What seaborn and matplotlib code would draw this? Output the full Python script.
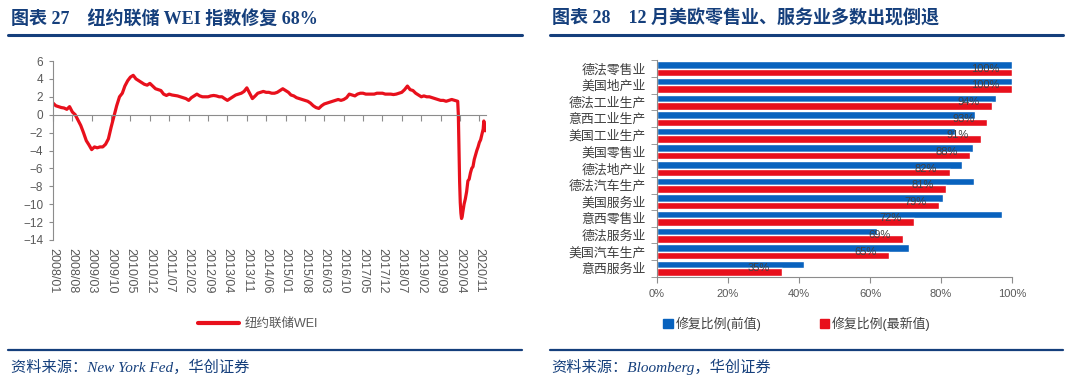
import numpy as np
import pandas as pd
import matplotlib
matplotlib.use("Agg")
import matplotlib.pyplot as plt
import matplotlib.dates as mdates
from matplotlib.lines import Line2D
from matplotlib.patches import Patch
from matplotlib.ticker import FuncFormatter
import seaborn as sns

# ---------------- Left chart data: NY Fed WEI ----------------
wei_monthly_start = "2008-01-01"
wei_monthly = [
    1.3, 1.0, 0.9, 0.8, 0.75, 0.6, 0.9, 0.3, 0.0, -0.6,
    -1.2, -2.0, -2.9, -3.4, -3.9, -3.6, -3.7, -3.6, -3.6, -3.3,
    -2.7, -1.4, -0.2, 1.0, 2.0, 2.4, 3.2, 3.8, 4.2, 4.4,
    4.0, 3.8, 3.6, 3.4, 3.3, 3.5, 3.2, 2.9, 2.8, 2.7,
    2.3, 2.15, 2.3, 2.2, 2.15, 2.1, 2.0, 1.9, 1.8, 1.6,
    1.9, 2.1, 2.3, 2.1, 2.0, 2.0, 2.0, 2.1, 2.15, 2.1,
    2.0, 2.0, 1.8, 1.6, 1.8, 2.0, 2.2, 2.3, 2.4, 2.6,
    3.0, 2.4, 1.8, 2.1, 2.4, 2.5, 2.6, 2.5, 2.5, 2.4,
    2.4, 2.5, 2.7, 2.9, 2.7, 2.5, 2.2, 2.1, 1.9, 1.8,
    1.7, 1.6, 1.5, 1.3, 1.0, 0.8, 0.7, 1.0, 1.2, 1.3,
    1.4, 1.5, 1.6, 1.7, 1.6, 1.7, 1.9, 2.3, 2.2, 2.1,
    2.3, 2.4, 2.4, 2.3, 2.3, 2.3, 2.3, 2.4, 2.4, 2.4,
    2.3, 2.3, 2.3, 2.25, 2.3, 2.4, 2.5, 2.8, 3.2, 2.8,
    2.7, 2.4, 2.2, 2.0, 2.1, 2.0, 2.0, 1.9, 1.8, 1.7,
    1.6, 1.6, 1.5, 1.6, 1.7, 1.6,
]
wei_2020_dates = [
    "2020-03-07", "2020-03-14", "2020-03-21", "2020-03-28", "2020-04-04",
    "2020-04-11", "2020-04-18", "2020-04-25", "2020-05-02", "2020-05-16",
    "2020-05-30", "2020-06-13", "2020-06-27", "2020-07-11", "2020-07-25",
    "2020-08-08", "2020-08-22", "2020-09-05", "2020-09-19", "2020-10-03",
    "2020-10-17", "2020-10-31", "2020-11-14", "2020-11-28", "2020-12-12",
    "2020-12-19", "2020-12-26", "2021-01-02",
]
wei_2020 = [
    1.5, 0.0, -4.0, -7.5, -9.8,
    -11.0, -11.6, -11.4, -10.9, -10.0,
    -9.4, -8.6, -7.4, -7.2, -6.5,
    -6.0, -5.8, -5.0, -4.5, -4.0,
    -3.6, -3.1, -2.8, -2.2, -1.6,
    -0.7, -1.2, -1.8,
]
date_tick_labels = [
    "2008/01", "2008/08", "2009/03", "2009/10", "2010/05", "2010/12",
    "2011/07", "2012/02", "2012/09", "2013/04", "2013/11", "2014/06",
    "2015/01", "2015/08", "2016/03", "2016/10", "2017/05", "2017/12",
    "2018/07", "2019/02", "2019/09", "2020/04", "2020/11",
]
wei_yticks = [-14, -12, -10, -8, -6, -4, -2, 0, 2, 4, 6]

# ---------------- Right chart data: recovery ratios ----------------
categories = [
    "德法零售业", "美国地产业", "德法工业生产", "意西工业生产", "美国工业生产",
    "美国零售业", "德法地产业", "德法汽车生产", "美国服务业", "意西零售业",
    "德法服务业", "美国汽车生产", "意西服务业",
]
prev_values = [100, 100, 95.4, 89.6, 84.0, 88.9, 86.0, 89.2, 80.7, 97.2, 61.9, 71.0, 41.3]
latest_values = [100, 100, 94.4, 93.0, 91.4, 88.3, 82.4, 81.4, 79.4, 72.3, 69.2, 65.4, 35.2]
series_names = ["修复比例(前值)", "修复比例(最新值)"]
pct_ticks = [0, 20, 40, 60, 80, 100]

# ---------------- Styling ----------------
sns.set_style("white")
plt.rcParams["font.family"] = ["Liberation Sans", "Noto Sans CJK SC", "DejaVu Sans"]
plt.rcParams["axes.unicode_minus"] = True

RED = "#E8101C"
BLUE = "#0862BE"
NAVY = "#153F7C"
GRAY = "#8C8C8C"
TXT = "#595959"
DARK = "#404040"
W, H = 1071, 387

fig = plt.figure(figsize=(W / 100, H / 100), dpi=100)


def fx(px):
    return px / W


def fy(py):
    return 1 - py / H


# ---------------- Left chart ----------------
ax1 = fig.add_axes([fx(53), fy(240), fx(486) - fx(53), fy(61) - fy(240)])
dates = list(pd.date_range(wei_monthly_start, periods=len(wei_monthly), freq="MS")) + \
    list(pd.to_datetime(wei_2020_dates))
df_wei = pd.DataFrame({"date": dates, "wei": wei_monthly + wei_2020})
sns.lineplot(data=df_wei, x="date", y="wei", color=RED, linewidth=2.3, ax=ax1, legend=False)

tick_dates = pd.to_datetime([s.replace("/", "-") + "-01" for s in date_tick_labels])
ax1.set_xlim(pd.Timestamp("2008-01-01"), pd.Timestamp("2021-01-12"))
ax1.set_ylim(-14, 6)
ax1.set_yticks(wei_yticks)
ax1.set_xticks(mdates.date2num(tick_dates))
ax1.set_xlabel("")
ax1.set_ylabel("")
for s in ["top", "right"]:
    ax1.spines[s].set_visible(False)
ax1.spines["bottom"].set_position(("data", 0))
ax1.spines["bottom"].set_color(GRAY)
ax1.spines["left"].set_color(GRAY)
ax1.tick_params(axis="x", which="both", bottom=True, direction="out", length=4,
                color=GRAY, labelbottom=False)
ax1.tick_params(axis="y", direction="out", length=3, color=GRAY, pad=4,
                labelsize=8.5, labelcolor=TXT, left=True)

sec = ax1.secondary_xaxis(0.0)
sec.set_xticks(mdates.date2num(tick_dates))
sec.set_xticklabels(date_tick_labels, rotation=-90, fontsize=9, color=TXT)
sec.tick_params(length=0, pad=6)
sec.spines["bottom"].set_visible(False)

fig.legend(handles=[Line2D([], [], color=RED, lw=3)], labels=["纽约联储WEI"],
           loc="center", bbox_to_anchor=(fx(258), fy(324)), frameon=False,
           handlelength=3.3, handletextpad=0.5, fontsize=9, labelcolor=TXT)

# ---------------- Right chart ----------------
ax2 = fig.add_axes([fx(657), fy(276.7), fx(1012) - fx(657), fy(60.5) - fy(276.7)])
df_bar = pd.DataFrame({
    "cat": categories * 2,
    "val": prev_values + latest_values,
    "series": [series_names[0]] * len(categories) + [series_names[1]] * len(categories),
})
sns.barplot(data=df_bar, y="cat", x="val", hue="series", hue_order=series_names,
            orient="h", palette=[BLUE, RED], saturation=1, width=0.9, dodge=True,
            ax=ax2, legend=False, errorbar=None)
ax2.set_xlim(0, 100)
ax2.set_ylim(len(categories) - 0.5, -0.5)
ax2.set_xticks(pct_ticks)
ax2.xaxis.set_major_formatter(FuncFormatter(lambda v, p: f"{v:.0f}%"))
ax2.set_yticks(range(len(categories)))
ax2.set_yticklabels(categories, fontsize=9.3, color=DARK)
ax2.set_yticks(np.arange(-0.5, len(categories), 1), minor=True)
ax2.set_xlabel("")
ax2.set_ylabel("")
for s in ["top", "right"]:
    ax2.spines[s].set_visible(False)
ax2.spines["bottom"].set_color(GRAY)
ax2.spines["left"].set_color(GRAY)
ax2.tick_params(axis="y", which="major", length=0, pad=8)
ax2.tick_params(axis="y", which="minor", left=True, length=4, direction="out", color=GRAY)
ax2.tick_params(axis="x", bottom=True, length=4, direction="out", color=GRAY,
                labelsize=8, labelcolor=TXT, pad=5)

for i, v in enumerate(latest_values):
    ax2.annotate(f"{round(v)}%", xy=(v, i), xytext=(-9, 0), textcoords="offset points",
                 ha="right", va="center", fontsize=8, color=DARK)

fig.legend(handles=[Patch(color=BLUE), Patch(color=RED)], labels=series_names,
           loc="center", bbox_to_anchor=(fx(797), fy(324)), ncol=2, frameon=False,
           handlelength=0.75, handleheight=0.75, handletextpad=0.2, columnspacing=4.5,
           fontsize=9.3, labelcolor=DARK)

# ---------------- Headers and footers ----------------
title_fam = ["Liberation Serif", "Noto Sans CJK SC"]
fig.text(fx(11), fy(19), "图表 27    纽约联储 WEI 指数修复 68%", family=title_fam,
         weight="bold", fontsize=13, color=NAVY, va="center", ha="left")
fig.text(fx(552), fy(19), "图表 28    12 月美欧零售业、服务业多数出现倒退", family=title_fam,
         weight="bold", fontsize=13, color=NAVY, va="center", ha="left")
for x0, x1 in [(8, 522), (550, 1063)]:
    fig.add_artist(Line2D([fx(x0), fx(x1)], [fy(35), fy(35)], color=NAVY, lw=2.2))
    fig.add_artist(Line2D([fx(x0), fx(x1)], [fy(350), fy(350)], color=NAVY, lw=1.6))

src_fam = ["Liberation Serif", "Noto Sans CJK SC"]
fig.text(fx(11), fy(367), "资料来源：New York Fed，华创证券", family=src_fam,
         style="italic", fontsize=11, color=NAVY, va="center", ha="left")
fig.text(fx(551), fy(367), "资料来源：Bloomberg，华创证券", family=src_fam,
         style="italic", fontsize=11, color=NAVY, va="center", ha="left")

fig.savefig("out.png", dpi=100)
